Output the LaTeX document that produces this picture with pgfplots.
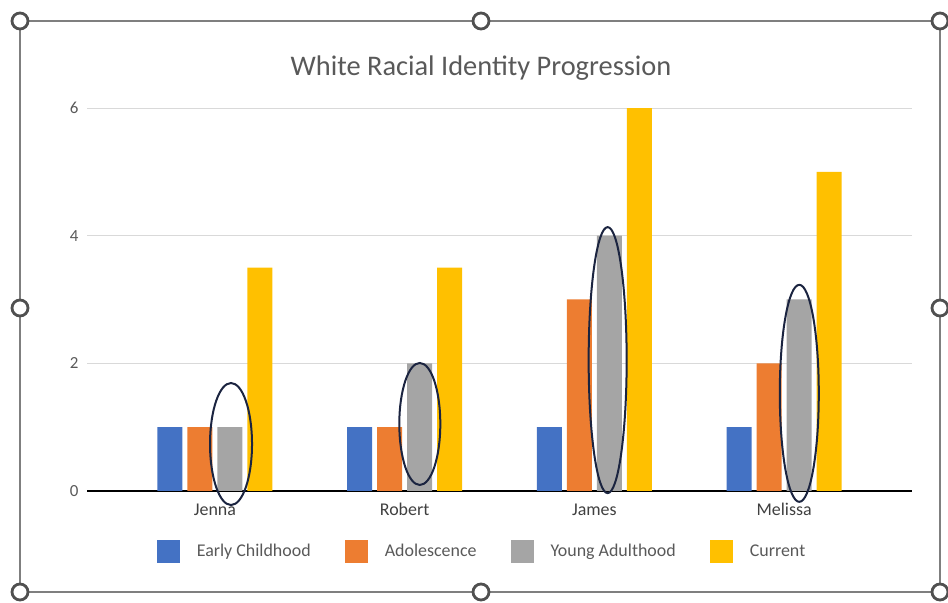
\documentclass[border=0pt]{standalone}
\usepackage{pgfplots}
\pgfplotsset{compat=1.18}
\usepackage{fontspec}
\setmainfont{Carlito}
\definecolor{cBlue}{HTML}{4472C4}
\definecolor{cOrange}{HTML}{ED7D31}
\definecolor{cGray}{HTML}{A5A5A5}
\definecolor{cYellow}{HTML}{FFC000}
\definecolor{gridGray}{HTML}{D9D9D9}
\definecolor{txtGray}{HTML}{595959}
\definecolor{catGray}{HTML}{404040}
\definecolor{frameGray}{HTML}{7F7F7F}
\definecolor{handleGray}{HTML}{505050}
\definecolor{ellNavy}{HTML}{1B2440}
\begin{document}
\begin{tikzpicture}
\useasboundingbox (0bp,0bp) rectangle (948bp,603bp);
\draw[line width=1.8bp, frameGray] (20bp,582bp) rectangle (940bp,11bp);
\begin{axis}[
  at={(87bp,112bp)}, anchor=south west, scale only axis,
  width=825bp, height=383bp,
  ybar=5bp, bar width=25bp,
  xmin=-0.674, xmax=3.674, ymin=0, ymax=6,
  xtick={0,1,2,3}, xticklabels={Jenna,Robert,James,Melissa},
  ytick={0,2,4,6},
  ymajorgrids, grid style={gridGray, line width=1bp},
  axis lines*=left,
  y axis line style={draw=none},
  x axis line style={black, line width=2bp, -},
  major tick length=0pt,
  tick style={draw=none},
  /pgf/number format/assume math mode=true,
  yticklabel style={font=\fontsize{17}{17}\selectfont, text=txtGray, xshift=-5bp},
  xticklabel style={font=\fontsize{18}{18}\selectfont, text=catGray, yshift=-9bp},
  title={White Racial Identity Progression},
  title style={at={(0.4776,1)}, anchor=center, yshift=34bp, font=\fontsize{28.5}{28.5}\selectfont, text=txtGray},
  legend columns=4,
  legend style={at={(0.4776,-0.1567)}, anchor=center, draw=none, fill=none,
    font=\fontsize{18}{18}\selectfont, text=txtGray,
    nodes={inner sep=0pt},
    /tikz/every odd column/.append style={column sep=17bp},
    /tikz/every even column/.append style={column sep=34bp}},
  clip=false,
]
\addplot[fill=cBlue, draw=none, legend image code/.code={\fill[cBlue] (0bp,-11.5bp) rectangle (23bp,11.5bp);}] coordinates {(0,1) (1,1) (2,1) (3,1)};
\addplot[fill=cOrange, draw=none, legend image code/.code={\fill[cOrange] (0bp,-11.5bp) rectangle (23bp,11.5bp);}] coordinates {(0,1) (1,1) (2,3) (3,2)};
\addplot[fill=cGray, draw=none, legend image code/.code={\fill[cGray] (0bp,-11.5bp) rectangle (23bp,11.5bp);}] coordinates {(0,1) (1,2) (2,4) (3,3)};
\addplot[fill=cYellow, draw=none, legend image code/.code={\fill[cYellow] (0bp,-11.5bp) rectangle (23bp,11.5bp);}] coordinates {(0,3.5) (1,3.5) (2,6) (3,5)};
\legend{Early Childhood, Adolescence, Young Adulthood, Current}
\draw[ellNavy, line width=2bp] (axis cs:0.085,0.736) ellipse [x radius=21bp, y radius=61bp];
\draw[ellNavy, line width=2bp] (axis cs:1.08,1.05) ellipse [x radius=20.5bp, y radius=61bp];
\draw[ellNavy, line width=2bp] (axis cs:2.07,2.05) ellipse [x radius=19bp, y radius=133bp];
\draw[ellNavy, line width=2bp] (axis cs:3.08,1.53) ellipse [x radius=19.5bp, y radius=108.5bp];
\end{axis}
\foreach \p in {(20bp,582bp),(481bp,582bp),(940bp,582bp),(20bp,295bp),(940bp,295bp),(20bp,11bp),(481bp,11bp),(940bp,11bp)}
  \draw[line width=2.8bp, handleGray, fill=white] \p circle (8bp);
\end{tikzpicture}
\end{document}
